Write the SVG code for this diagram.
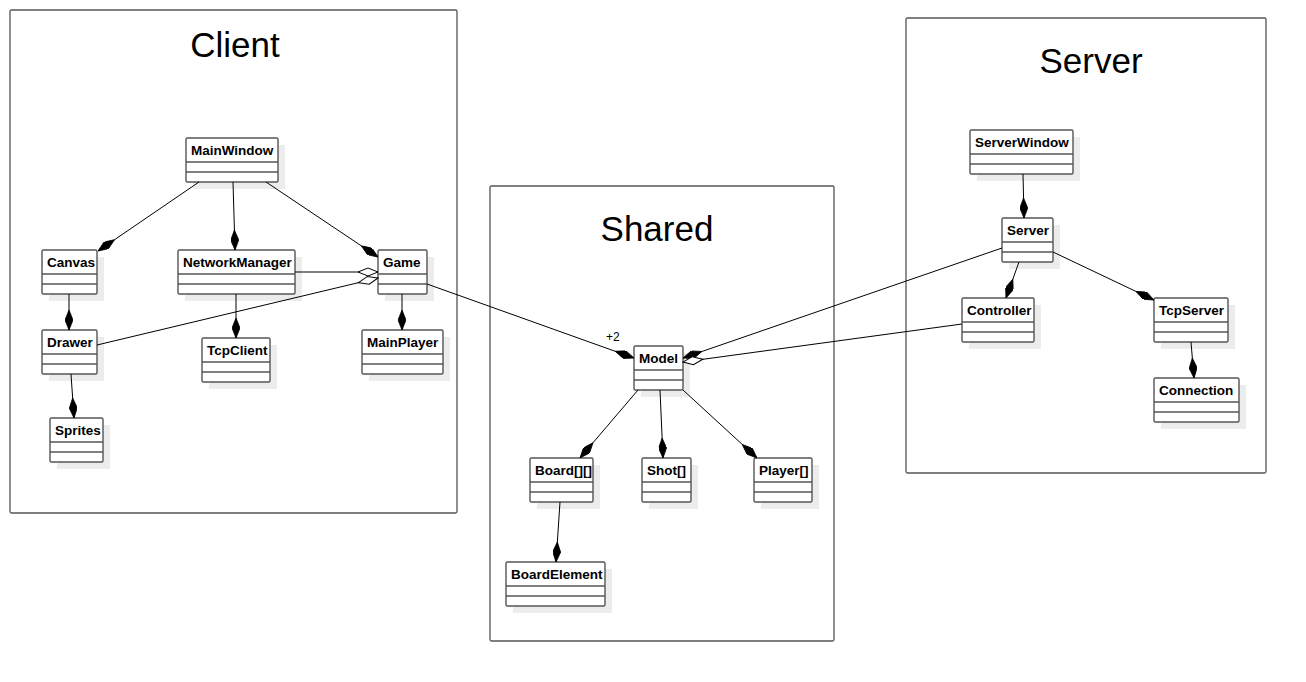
<svg xmlns="http://www.w3.org/2000/svg" width="1306" height="682" viewBox="0 0 1306 682">
  <style>
    .pkg { fill: #ffffff; stroke: #555555; stroke-width: 1.3; }
    .pkg-title { font-family: "Liberation Sans", Arial, sans-serif; font-size: 35px; fill: #000000; text-anchor: middle; }
    .shadow { fill: #ececec; }
    .cls { fill: #ffffff; stroke: #555555; stroke-width: 1.4; }
    .sep { stroke: #555555; stroke-width: 1.4; }
    .name { font-family: "Liberation Sans", Arial, sans-serif; font-size: 13.5px; font-weight: bold; fill: #000000; }
    .link { stroke: #000000; stroke-width: 1; fill: none; }
    .comp { marker-end: url(#composition); }
    .aggr { marker-end: url(#aggregation); }
    .label { font-family: "Liberation Sans", Arial, sans-serif; font-size: 12px; fill: #000000; }
  </style>
  <defs>
    <marker id="composition" viewBox="0 0 20 8" refX="20" refY="4" markerUnits="userSpaceOnUse" markerWidth="20" markerHeight="8" orient="auto">
      <path d="M0,4 L10,0 L20,4 L10,8 Z" fill="#000000" stroke="#000000" stroke-width="0.8"/>
    </marker>
    <marker id="aggregation" viewBox="-1 -1 22 10" refX="20" refY="4" markerUnits="userSpaceOnUse" markerWidth="22" markerHeight="10" orient="auto">
      <path d="M0,4 L10,0 L20,4 L10,8 Z" fill="#ffffff" stroke="#000000" stroke-width="1"/>
    </marker>
  </defs>

  <!-- packages -->
  <g id="pkg-client">
    <rect class="pkg" x="10" y="10" width="447" height="503" rx="1.5"/>
    <text class="pkg-title" x="235" y="57">Client</text>
  </g>
  <g id="pkg-shared">
    <rect class="pkg" x="490" y="186" width="344" height="455" rx="1.5"/>
    <text class="pkg-title" x="657" y="241">Shared</text>
  </g>
  <g id="pkg-server">
    <rect class="pkg" x="906" y="18" width="360" height="455" rx="1.5"/>
    <text class="pkg-title" x="1091" y="73">Server</text>
  </g>

  <!-- classes: shadow, box, name compartment, two empty compartments -->
  <g id="MainWindow">
    <rect class="shadow" x="193" y="145" width="92" height="44"/>
    <rect class="cls" x="186" y="138" width="92" height="44" rx="1.5"/>
    <line class="sep" x1="186" y1="162" x2="278" y2="162"/>
    <line class="sep" x1="186" y1="172" x2="278" y2="172"/>
    <text class="name" x="191" y="155">MainWindow</text>
  </g>
  <g id="Canvas">
    <rect class="shadow" x="49" y="257" width="55" height="44"/>
    <rect class="cls" x="42" y="250" width="55" height="44" rx="1.5"/>
    <line class="sep" x1="42" y1="274" x2="97" y2="274"/>
    <line class="sep" x1="42" y1="284" x2="97" y2="284"/>
    <text class="name" x="47" y="267">Canvas</text>
  </g>
  <g id="NetworkManager">
    <rect class="shadow" x="185" y="257" width="117" height="44"/>
    <rect class="cls" x="178" y="250" width="117" height="44" rx="1.5"/>
    <line class="sep" x1="178" y1="274" x2="295" y2="274"/>
    <line class="sep" x1="178" y1="284" x2="295" y2="284"/>
    <text class="name" x="183" y="267">NetworkManager</text>
  </g>
  <g id="Game">
    <rect class="shadow" x="385" y="257" width="49" height="44"/>
    <rect class="cls" x="378" y="250" width="49" height="44" rx="1.5"/>
    <line class="sep" x1="378" y1="274" x2="427" y2="274"/>
    <line class="sep" x1="378" y1="284" x2="427" y2="284"/>
    <text class="name" x="383" y="267">Game</text>
  </g>
  <g id="Drawer">
    <rect class="shadow" x="49" y="337" width="55" height="44"/>
    <rect class="cls" x="42" y="330" width="55" height="44" rx="1.5"/>
    <line class="sep" x1="42" y1="354" x2="97" y2="354"/>
    <line class="sep" x1="42" y1="364" x2="97" y2="364"/>
    <text class="name" x="47" y="347">Drawer</text>
  </g>
  <g id="TcpClient">
    <rect class="shadow" x="209" y="345" width="68" height="44"/>
    <rect class="cls" x="202" y="338" width="68" height="44" rx="1.5"/>
    <line class="sep" x1="202" y1="362" x2="270" y2="362"/>
    <line class="sep" x1="202" y1="372" x2="270" y2="372"/>
    <text class="name" x="207" y="355">TcpClient</text>
  </g>
  <g id="MainPlayer">
    <rect class="shadow" x="369" y="337" width="81" height="44"/>
    <rect class="cls" x="362" y="330" width="81" height="44" rx="1.5"/>
    <line class="sep" x1="362" y1="354" x2="443" y2="354"/>
    <line class="sep" x1="362" y1="364" x2="443" y2="364"/>
    <text class="name" x="367" y="347">MainPlayer</text>
  </g>
  <g id="Sprites">
    <rect class="shadow" x="57" y="425" width="53" height="44"/>
    <rect class="cls" x="50" y="418" width="53" height="44" rx="1.5"/>
    <line class="sep" x1="50" y1="442" x2="103" y2="442"/>
    <line class="sep" x1="50" y1="452" x2="103" y2="452"/>
    <text class="name" x="55" y="435">Sprites</text>
  </g>

  <g id="Model">
    <rect class="shadow" x="641" y="353" width="49" height="44"/>
    <rect class="cls" x="634" y="346" width="49" height="44" rx="1.5"/>
    <line class="sep" x1="634" y1="370" x2="683" y2="370"/>
    <line class="sep" x1="634" y1="380" x2="683" y2="380"/>
    <text class="name" x="639" y="363">Model</text>
  </g>
  <g id="Board">
    <rect class="shadow" x="537" y="465" width="63" height="44"/>
    <rect class="cls" x="530" y="458" width="63" height="44" rx="1.5"/>
    <line class="sep" x1="530" y1="482" x2="593" y2="482"/>
    <line class="sep" x1="530" y1="492" x2="593" y2="492"/>
    <text class="name" x="535" y="475">Board[][]</text>
  </g>
  <g id="Shot">
    <rect class="shadow" x="649" y="465" width="49" height="44"/>
    <rect class="cls" x="642" y="458" width="49" height="44" rx="1.5"/>
    <line class="sep" x1="642" y1="482" x2="691" y2="482"/>
    <line class="sep" x1="642" y1="492" x2="691" y2="492"/>
    <text class="name" x="647" y="475">Shot[]</text>
  </g>
  <g id="Player">
    <rect class="shadow" x="761" y="465" width="58" height="44"/>
    <rect class="cls" x="754" y="458" width="58" height="44" rx="1.5"/>
    <line class="sep" x1="754" y1="482" x2="812" y2="482"/>
    <line class="sep" x1="754" y1="492" x2="812" y2="492"/>
    <text class="name" x="759" y="475">Player[]</text>
  </g>
  <g id="BoardElement">
    <rect class="shadow" x="513" y="569" width="99" height="44"/>
    <rect class="cls" x="506" y="562" width="99" height="44" rx="1.5"/>
    <line class="sep" x1="506" y1="586" x2="605" y2="586"/>
    <line class="sep" x1="506" y1="596" x2="605" y2="596"/>
    <text class="name" x="511" y="579">BoardElement</text>
  </g>

  <g id="ServerWindow">
    <rect class="shadow" x="977" y="137" width="103" height="44"/>
    <rect class="cls" x="970" y="130" width="103" height="44" rx="1.5"/>
    <line class="sep" x1="970" y1="154" x2="1073" y2="154"/>
    <line class="sep" x1="970" y1="164" x2="1073" y2="164"/>
    <text class="name" x="975" y="147">ServerWindow</text>
  </g>
  <g id="Server">
    <rect class="shadow" x="1009" y="225" width="51" height="44"/>
    <rect class="cls" x="1002" y="218" width="51" height="44" rx="1.5"/>
    <line class="sep" x1="1002" y1="242" x2="1053" y2="242"/>
    <line class="sep" x1="1002" y1="252" x2="1053" y2="252"/>
    <text class="name" x="1007" y="235">Server</text>
  </g>
  <g id="Controller">
    <rect class="shadow" x="969" y="305" width="72" height="44"/>
    <rect class="cls" x="962" y="298" width="72" height="44" rx="1.5"/>
    <line class="sep" x1="962" y1="322" x2="1034" y2="322"/>
    <line class="sep" x1="962" y1="332" x2="1034" y2="332"/>
    <text class="name" x="967" y="315">Controller</text>
  </g>
  <g id="TcpServer">
    <rect class="shadow" x="1161" y="305" width="74" height="44"/>
    <rect class="cls" x="1154" y="298" width="74" height="44" rx="1.5"/>
    <line class="sep" x1="1154" y1="322" x2="1228" y2="322"/>
    <line class="sep" x1="1154" y1="332" x2="1228" y2="332"/>
    <text class="name" x="1159" y="315">TcpServer</text>
  </g>
  <g id="Connection">
    <rect class="shadow" x="1161" y="385" width="85" height="44"/>
    <rect class="cls" x="1154" y="378" width="85" height="44" rx="1.5"/>
    <line class="sep" x1="1154" y1="402" x2="1239" y2="402"/>
    <line class="sep" x1="1154" y1="412" x2="1239" y2="412"/>
    <text class="name" x="1159" y="395">Connection</text>
  </g>

  <!-- connectors, drawn over the class shadows -->
  <g id="connectors">
    <line class="link comp" x1="199" y1="182" x2="98" y2="251"/>
    <line class="link comp" x1="233" y1="182" x2="235" y2="250"/>
    <line class="link comp" x1="266" y1="182" x2="378" y2="257"/>
    <line class="link aggr" x1="295" y1="272" x2="378" y2="272"/>
    <line class="link aggr" x1="97" y1="345" x2="378" y2="278"/>
    <line class="link comp" x1="69" y1="294" x2="69" y2="330"/>
    <line class="link comp" x1="236" y1="294" x2="236" y2="338"/>
    <line class="link comp" x1="402" y1="294" x2="402" y2="330"/>
    <line class="link comp" x1="71" y1="374" x2="74" y2="418"/>
    <line class="link comp" x1="427" y1="284" x2="634" y2="358"/>
    <text class="label" x="606" y="341">+2</text>
    <line class="link comp" x1="1002" y1="248" x2="683" y2="358"/>
    <line class="link aggr" x1="962" y1="324" x2="683" y2="362"/>
    <line class="link comp" x1="1023" y1="174" x2="1024" y2="218"/>
    <line class="link comp" x1="1019" y1="262" x2="1006" y2="298"/>
    <line class="link comp" x1="1053" y1="252" x2="1154" y2="300"/>
    <line class="link comp" x1="1191" y1="342" x2="1194" y2="378"/>
    <line class="link comp" x1="638" y1="390" x2="580" y2="458"/>
    <line class="link comp" x1="660" y1="390" x2="663" y2="458"/>
    <line class="link comp" x1="683" y1="390" x2="757" y2="458"/>
    <line class="link comp" x1="560" y1="502" x2="556" y2="562"/>
  </g>
</svg>
